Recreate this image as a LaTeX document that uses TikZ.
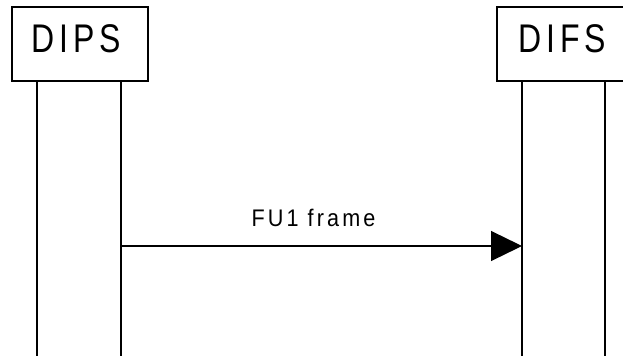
\documentclass[tikz,border=0pt]{standalone}
\usepackage{fontspec}
\usetikzlibrary{arrows.meta,positioning}
\newfontfamily\boxfont[FakeStretch=0.8,LetterSpace=12]{Liberation Sans}
\newfontfamily\msgfont[FakeStretch=0.9,LetterSpace=13]{Liberation Sans}

\begin{document}
\begin{tikzpicture}[
    x=1pt, y=-1pt,
    entity/.style={draw, line width=1.3pt, minimum width=136pt, minimum height=74pt,
      inner sep=0pt, text depth=11pt, font=\boxfont\fontsize{40}{40}\selectfont},
    lifeline/.style={line width=1.2pt},
    msg/.style={-{Triangle[length=31pt, width=30pt]}, line width=1.2pt}
  ]
    \useasboundingbox (0,0) rectangle (623,356);
    \node[entity] (dips) at (80,44) {\hspace*{-7pt}DIPS};
    \node[entity] (difs) at (565,44) {\hspace*{-5pt}DIFS};
    % lifelines
    \coordinate (dipsL) at (37,81);
    \coordinate (dipsR) at (121,81);
    \coordinate (difsL) at (522,81);
    \coordinate (difsR) at (605,81);
    \coordinate (dipsLe) at (37,356);
    \coordinate (dipsRe) at (121,356);
    \coordinate (difsLe) at (522,356);
    \coordinate (difsRe) at (605,356);
    \draw[lifeline] (dipsL) -- (dipsLe);
    \draw[lifeline] (dipsR) -- (dipsRe);
    \draw[lifeline] (difsL) -- (difsLe);
    \draw[lifeline] (difsR) -- (difsRe);
    % message
    \coordinate (src) at (121,246);
    \coordinate (dst) at (522,246);
    \draw[msg] (src) -- (dst)
      node[pos=0.48, above=19pt, inner sep=0pt, font=\msgfont\fontsize{24}{24}\selectfont] (frame) {FU1 frame};
  \end{tikzpicture}
\end{document}
